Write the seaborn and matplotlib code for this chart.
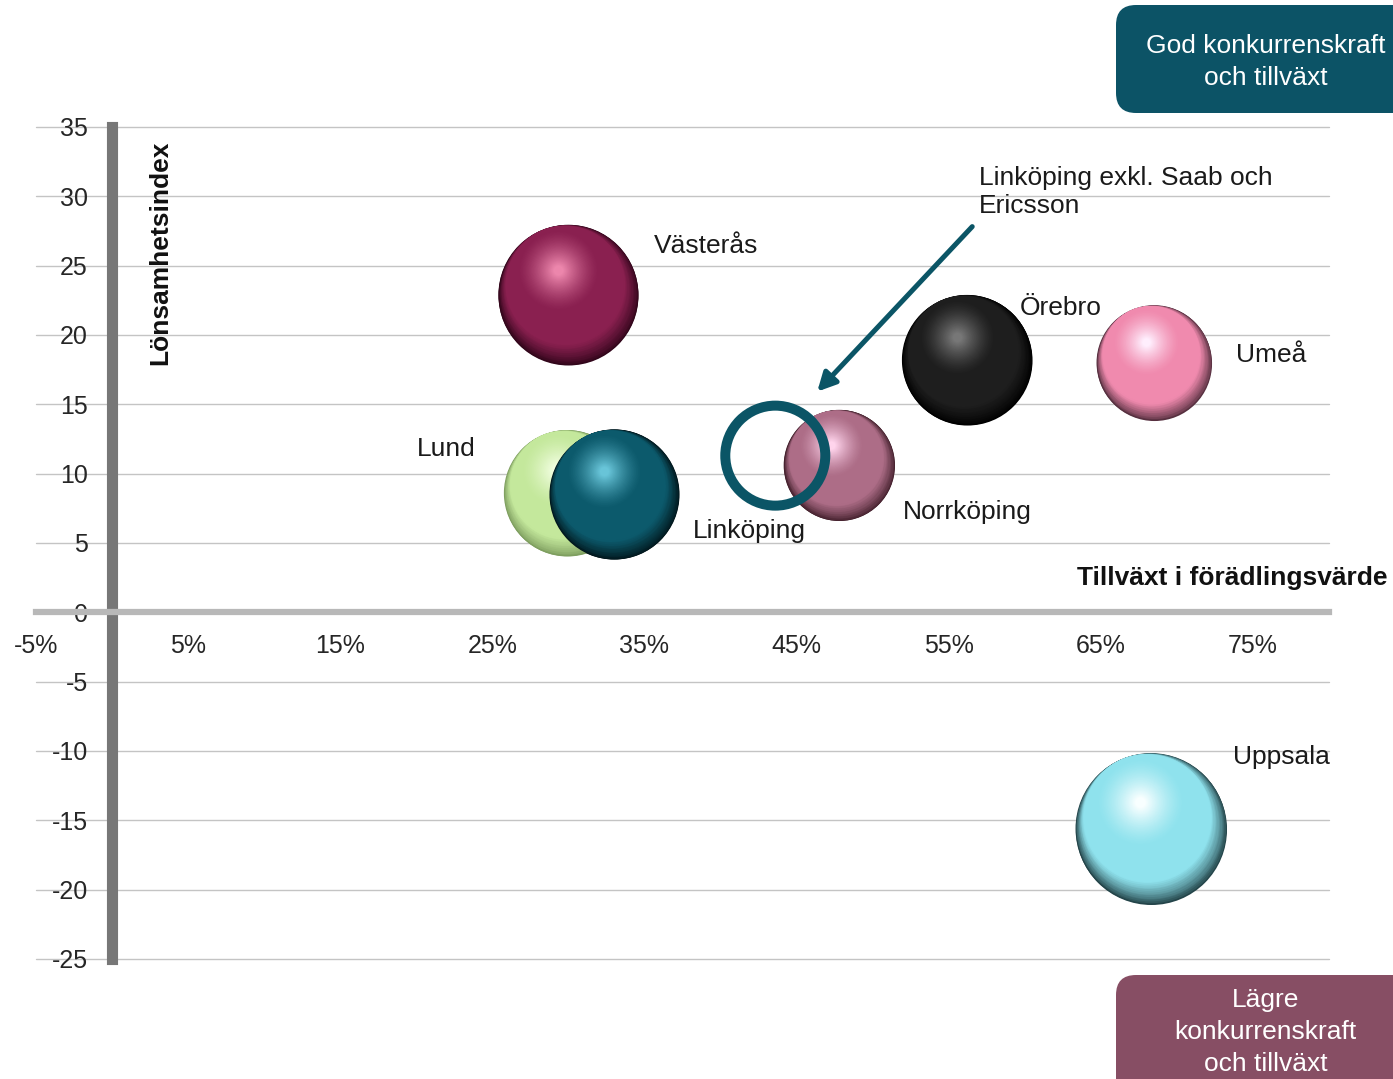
import numpy as np
import pandas as pd
import seaborn as sns
import matplotlib.pyplot as plt
from matplotlib.colors import to_rgb
from matplotlib.patches import FancyBboxPatch
from matplotlib.transforms import offset_copy

sns.set_style("white")
plt.rcParams["font.family"] = ["Liberation Sans", "DejaVu Sans"]
plt.rcParams["axes.unicode_minus"] = False

# Data
regioner = ["Västerås", "Lund", "Linköping", "Norrköping", "Örebro", "Umeå", "Uppsala"]
tillvaxt = [0.300, 0.299, 0.330, 0.478, 0.562, 0.685, 0.683]
lonsamhet = [22.9, 8.6, 8.5, 10.6, 18.2, 18.0, -15.6]
storlek = [49.0, 39.7, 42.3, 30.8, 42.3, 33.1, 57.0]

exkl_namn = "Linköping exkl. Saab och\nEricsson"
exkl_tillvaxt = 0.436
exkl_lonsamhet = 11.3
exkl_storlek = 25.0

x_ticks = [-0.05, 0.05, 0.15, 0.25, 0.35, 0.45, 0.55, 0.65, 0.75]
x_tick_labels = ["-5%", "5%", "15%", "25%", "35%", "45%", "55%", "65%", "75%"]
y_ticks = [-25, -20, -15, -10, -5, 0, 5, 10, 15, 20, 25, 30, 35]
y_tick_labels = ["-25", "-20", "-15", "-10", "-5", "0", "5", "10", "15", "20", "25", "30", "35"]

# sphere colours: rim (shadow), body, highlight
rim_farg = ["#32061b", "#7f9f60", "#01151a", "#43202c", "#000000", "#573040", "#24454a"]
kropp_farg = ["#8a2050", "#c4e89c", "#0c5a6c", "#ad6d87", "#1e1e1e", "#f08aae", "#8fe2ed"]
ljus_farg = ["#ec86ac", "#f4ffe4", "#68c4d8", "#ffd4ec", "#777777", "#ffeefd", "#f8ffff"]

TEAL = "#0b5566"
S_PER = 207.4  # points^2 per size unit

df = pd.DataFrame({"region": regioner, "tillvaxt": tillvaxt,
                   "lonsamhet": lonsamhet, "storlek": storlek})

fig = plt.figure(figsize=(13.93, 10.79), dpi=100)
ax = fig.add_axes([36 / 1393, 120 / 1079, 1293 / 1393, 832 / 1079])

ax.set_xlim(-0.05, 0.80)
ax.set_ylim(-25, 35)

# base bubbles
smin, smax = min(storlek), max(storlek)
sns.scatterplot(data=df, x="tillvaxt", y="lonsamhet", hue="region",
                palette=dict(zip(regioner, rim_farg)),
                size="storlek", sizes=(smin * S_PER, smax * S_PER), size_norm=(smin, smax),
                linewidth=0, legend=False, ax=ax, zorder=2)

# fake 3d shading: stacked discs shifted towards the light
n_lager = 90
riktning = np.array([-0.38, 0.92])
for k, rad in df.iterrows():
    R = np.sqrt(rad.storlek * S_PER) / 2
    rim = np.array(to_rgb(rim_farg[k]))
    body = np.array(to_rgb(kropp_farg[k]))
    light = np.array(to_rgb(ljus_farg[k]))
    for j in range(n_lager):
        u = j / (n_lager - 1)
        f = 1 - 0.93 * u
        d = min(1 - f, 0.39) * R
        if u < 0.16:
            c = rim + (body - rim) * (u / 0.16) ** 0.8
        elif u < 0.45:
            c = body
        else:
            c = body + (light - body) * ((u - 0.45) / 0.55) ** 1.4
        tr = offset_copy(ax.transData, fig=fig, x=riktning[0] * d, y=riktning[1] * d, units="points")
        ax.scatter(rad.tillvaxt, rad.lonsamhet, s=(2 * R * f) ** 2, color=np.clip(c, 0, 1),
                   linewidths=0, transform=tr, zorder=3 + k + j * 0.001)

# Linköping excl. Saab and Ericsson (ring)
ax.scatter(exkl_tillvaxt, exkl_lonsamhet, s=exkl_storlek * S_PER, facecolors="none",
           edgecolors=TEAL, linewidths=7.2, zorder=20)

# labels
etikett_dx = [61.2, -108, 56.5, 46, 38.2, 59, 58.8]
etikett_dy = [30.2, 26.6, -31.7, -38.9, 32.4, 0.6, 46.4]
for k, namn in enumerate(regioner):
    ax.annotate(namn, (tillvaxt[k], lonsamhet[k]), xytext=(etikett_dx[k], etikett_dy[k]),
                textcoords="offset points", ha="left", va="baseline",
                fontsize=19, color="#1a1a1a", zorder=30)

ax.annotate(exkl_namn, (exkl_tillvaxt, exkl_lonsamhet), xytext=(146.9, 174.5),
            textcoords="offset points", ha="left", va="baseline",
            fontsize=19, color="#1a1a1a", zorder=30)
ax.annotate("", xy=(exkl_tillvaxt, exkl_lonsamhet),
            xycoords=offset_copy(ax.transData, fig=fig, x=30.2, y=46.1, units="points"),
            xytext=(exkl_tillvaxt, exkl_lonsamhet),
            textcoords=offset_copy(ax.transData, fig=fig, x=141.8, y=164.9, units="points"),
            arrowprops=dict(arrowstyle="-|>,head_length=0.55,head_width=0.28", color=TEAL,
                            lw=3.6, shrinkA=0, shrinkB=0, mutation_scale=20),
            zorder=30)

# axes
ax.set_xticks(x_ticks, x_tick_labels)
ax.set_yticks(y_ticks, y_tick_labels)
for s in ["top", "right"]:
    ax.spines[s].set_visible(False)
ax.spines["left"].set_position(("data", 0))
ax.spines["bottom"].set_position(("data", 0))
ax.spines["left"].set_color("#777777")
ax.spines["left"].set_linewidth(8)
ax.spines["left"].set_capstyle("projecting")
ax.spines["bottom"].set_color("#b8b8b8")
ax.spines["bottom"].set_linewidth(4.5)
ax.tick_params(axis="x", direction="out", length=5.4, width=4.5, color="#b8b8b8",
               pad=10.4, labelsize=18, labelcolor="#262626")
ax.tick_params(axis="y", direction="out", length=5.4, width=8, color="#777777",
               pad=12, labelsize=18, labelcolor="#262626")
ax.grid(axis="y", color="#c4c4c4", linewidth=1.0)
ax.grid(axis="x", visible=False)
ax.set_axisbelow(True)
for gl in ax.get_ygridlines():
    gl.set_clip_on(False)

ax.set_xlabel("Tillväxt i förädlingsvärde", fontsize=19, fontweight="bold",
              color="#111111", ha="center", va="baseline")
ax.xaxis.set_label_coords(0.9254, 0.4495)
ax.set_ylabel("Lönsamhetsindex", fontsize=19, fontweight="bold",
              color="#111111", ha="center", va="baseline")
ax.yaxis.set_label_coords(0.1013, 0.8492)

# corner boxes
fig.add_artist(FancyBboxPatch((11.16, 9.66), 3.0, 1.08, boxstyle="round,pad=0,rounding_size=0.2",
                              transform=fig.dpi_scale_trans, fc="#0c5366", ec="none"))
fig.text(12.655, 9.94, "God konkurrenskraft\noch tillväxt", transform=fig.dpi_scale_trans,
         ha="center", va="baseline", fontsize=19, color="white", linespacing=1.43)
fig.add_artist(FancyBboxPatch((11.16, -0.4), 3.0, 1.44, boxstyle="round,pad=0,rounding_size=0.2",
                              transform=fig.dpi_scale_trans, fc="#874e64", ec="none"))
fig.text(12.655, 0.08, "Lägre\nkonkurrenskraft\noch tillväxt", transform=fig.dpi_scale_trans,
         ha="center", va="baseline", fontsize=19, color="white", linespacing=1.43)

plt.savefig("out.png", dpi=100)
